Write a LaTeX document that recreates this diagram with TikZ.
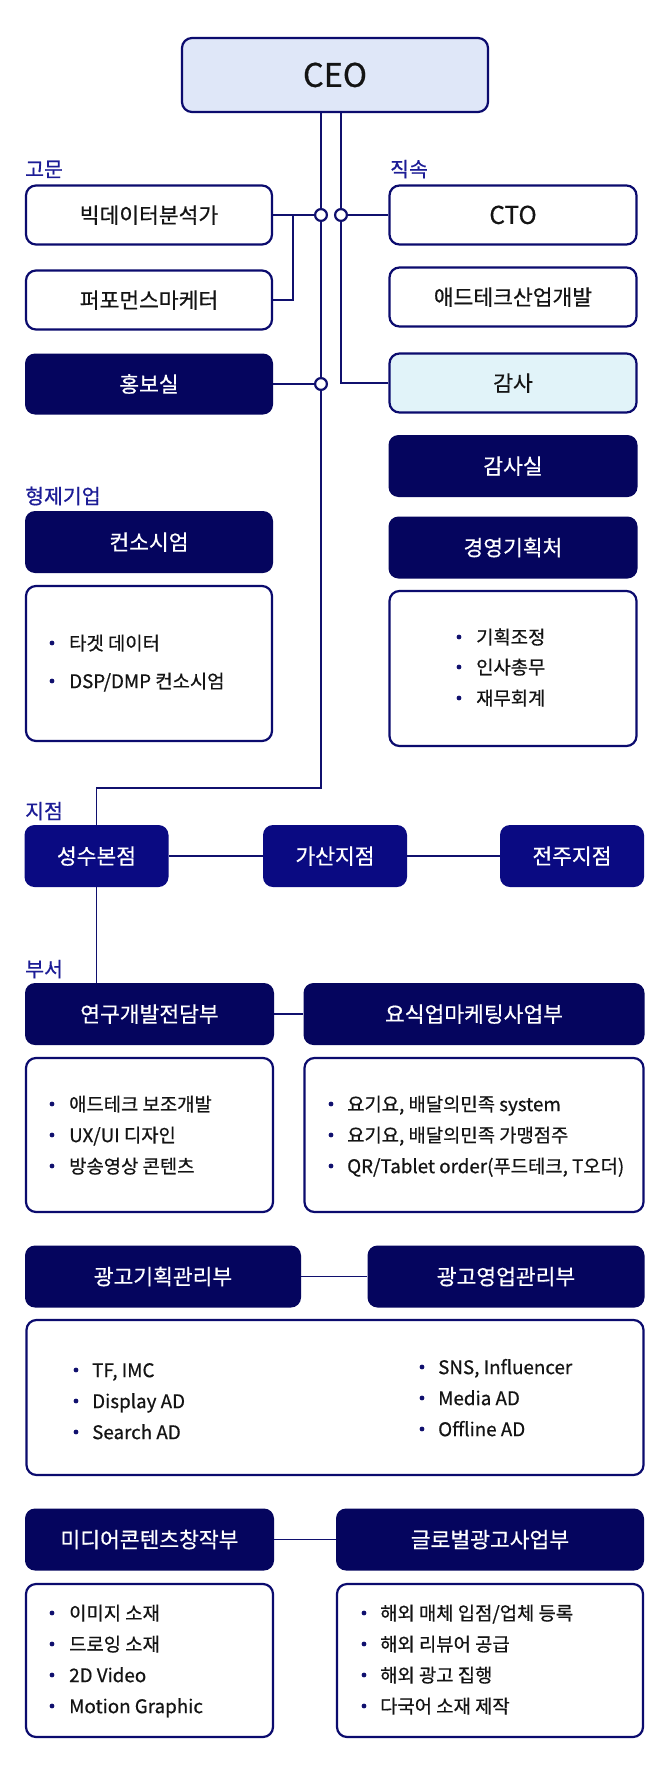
\documentclass[tikz,border=0pt]{standalone}
\usepackage{fontspec}
\setmainfont{Noto Sans CJK KR}[FakeBold=0.6]
\definecolor{ln}{HTML}{10106E}
\definecolor{bd}{HTML}{0B0B6E}
\definecolor{dk}{HTML}{05055E}
\definecolor{br}{HTML}{0A0A82}
\definecolor{ceof}{HTML}{DFE7F8}
\definecolor{gamf}{HTML}{E1F3F9}
\definecolor{lblc}{HTML}{1C1C96}
\definecolor{txt}{HTML}{141414}
\tikzset{
  basebox/.style={rounded corners=10pt, inner sep=0pt, minimum height=59pt,
    font=\fontsize{21.5}{26}\selectfont, text height=18pt, text depth=1.7pt},
  wbox/.style={basebox, draw=bd, line width=2.2pt, fill=white, text=txt},
  dbox/.style={basebox, fill=dk, text=white},
  bbox/.style={basebox, fill=br, text=white},
  listbox/.style={draw=bd, line width=2.2pt, rounded corners=10pt, fill=white, inner sep=0pt},
  grplbl/.style={anchor=west, inner sep=0pt, text=lblc, font=\fontsize{20.5}{24}\selectfont, text height=17.2pt, text depth=1.6pt},
  itm/.style={anchor=west, inner sep=0pt, text=txt, font=\fontsize{18.8}{22}\selectfont, text height=15.8pt, text depth=1.5pt},
  conn/.style={draw=ln, line width=1.8pt},
  joint/.style={circle, draw=ln, line width=2.2pt, fill=white, inner sep=0pt, minimum size=11.8pt},
  bul/.style={fill=ln},
}
\newcommand{\bitem}[4]{% name, bullet x, text x, y, text
  \fill[bul] (#2,#4) circle (2.4pt);
  \node[itm] (#1) at (#3,#4)}
\begin{document}
\begin{tikzpicture}[x=1pt,y=-1pt]
\useasboundingbox (0,0) rectangle (669,1779);
\fill[white] (0,0) rectangle (669,1779);

% ---------- top nodes
\node[wbox, fill=ceof, minimum width=306pt, minimum height=74pt, font=\fontsize{32.5}{38}\selectfont, text height=26.3pt, text depth=2.6pt] (ceo) at (335,75) {CEO};

\node[grplbl] (lgomun) at (25,169) {고문};
\node[grplbl] (ljiksok) at (390,169) {직속};

\node[wbox, minimum width=246pt] (bigdata) at (149,215) {빅데이터분석가};
\node[wbox, minimum width=246pt] (perf) at (149,300) {퍼포먼스마케터};
\node[dbox, minimum width=248pt, minimum height=61pt] (pr) at (149,384) {홍보실};

\node[wbox, minimum width=247pt, font=\fontsize{24.5}{28}\selectfont, text height=19.8pt, text depth=2pt] (cto) at (513,215) {CTO};
\node[wbox, minimum width=247pt] (adtech) at (513,297) {애드테크산업개발};
\node[wbox, fill=gamf, minimum width=247pt] (gamsa) at (513,383) {감사};
\node[dbox, minimum width=249pt, minimum height=62pt] (gamsasil) at (513,466) {감사실};

\node[grplbl] (lbro) at (25,496) {형제기업};
\node[dbox, minimum width=248pt, minimum height=62pt] (cons) at (149,542) {컨소시엄};
\node[listbox, minimum width=246pt, minimum height=155pt] (conslist) at (149,663.5) {};
\bitem{c1}{52}{69}{643}{타겟 데이터};
\bitem{c2}{52}{69}{681}{DSP/DMP 컨소시엄};

\node[dbox, minimum width=249pt, minimum height=62pt] (mgmt) at (513,547.5) {경영기획처};
\node[listbox, minimum width=247pt, minimum height=155pt] (mgmtlist) at (513,668.5) {};
\bitem{m1}{459}{476}{637}{기획조정};
\bitem{m2}{459}{476}{667}{인사총무};
\bitem{m3}{459}{476}{698}{재무회계};

% ---------- branches
\node[grplbl] (lbranch) at (25,811) {지점};
\node[bbox, minimum width=144pt, minimum height=62pt] (sungsu) at (96.5,856) {성수본점};
\node[bbox, minimum width=144pt, minimum height=62pt] (gasan) at (335,856) {가산지점};
\node[bbox, minimum width=144pt, minimum height=62pt] (jeonju) at (572,856) {전주지점};

% ---------- departments
\node[grplbl] (ldept) at (25,969) {부서};
\node[dbox, minimum width=249pt, minimum height=62pt] (rnd) at (149.5,1014) {연구개발전담부};
\node[dbox, minimum width=341pt, minimum height=62pt] (food) at (474,1014) {요식업마케팅사업부};
\node[listbox, minimum width=247pt, minimum height=154pt] (rndlist) at (149.5,1135) {};
\node[listbox, minimum width=339pt, minimum height=154pt] (foodlist) at (474,1135) {};
\bitem{r1}{52}{69}{1104}{애드테크 보조개발};
\bitem{r2}{52}{69}{1135}{UX/UI 디자인};
\bitem{r3}{52}{69}{1166}{방송영상 콘텐츠};
\bitem{f1}{331}{347}{1104}{요기요, 배달의민족 system};
\bitem{f2}{331}{347}{1135}{요기요, 배달의민족 가맹점주};
\bitem{f3}{331}{347}{1166}{QR/Tablet order(푸드테크, T오더)};

\node[dbox, minimum width=276pt, minimum height=62pt] (adplan) at (163,1276.5) {광고기획관리부};
\node[dbox, minimum width=277pt, minimum height=62pt] (adsales) at (506,1276.5) {광고영업관리부};
\node[listbox, minimum width=617pt, minimum height=155pt] (adlist) at (335,1397.5) {};
\bitem{a1}{76}{92}{1370}{TF, IMC};
\bitem{a2}{76}{92}{1401}{Display AD};
\bitem{a3}{76}{92}{1432}{Search AD};
\bitem{a4}{422}{438}{1367}{SNS, Influencer};
\bitem{a5}{422}{438}{1398}{Media AD};
\bitem{a6}{422}{438}{1429}{Offline AD};

\node[dbox, minimum width=249pt, minimum height=62pt] (media) at (149.5,1539.5) {미디어콘텐츠창작부};
\node[dbox, minimum width=308pt, minimum height=62pt] (global) at (490,1539.5) {글로벌광고사업부};
\node[listbox, minimum width=247pt, minimum height=153pt] (medialist) at (149.5,1660.5) {};
\node[listbox, minimum width=306pt, minimum height=153pt] (globallist) at (490,1660.5) {};
\bitem{d1}{52}{69}{1613}{이미지 소재};
\bitem{d2}{52}{69}{1644}{드로잉 소재};
\bitem{d3}{52}{69}{1675}{2D Video};
\bitem{d4}{52}{69}{1706}{Motion Graphic};
\bitem{g1}{364}{380}{1613}{해외 매체 입점/업체 등록};
\bitem{g2}{364}{380}{1644}{해외 리뷰어 공급};
\bitem{g3}{364}{380}{1675}{해외 광고 집행};
\bitem{g4}{364}{380}{1706}{다국어 소재 제작};

% ---------- connectors
\coordinate (j1) at (321,215);
\coordinate (j2) at (341,215);
\coordinate (j3) at (321,384);
\coordinate (turn) at (321,788);
\coordinate (fork) at (293,215);

\draw[conn] (ceo.south -| j1) -- (j1) -- (j3) -- (turn) -| (sungsu.north);
\draw[conn] (ceo.south -| j2) -- (j2) -- (gamsa.west -| j2) -- (gamsa.west);
\draw[conn] (bigdata.east) -- (j1);
\draw[conn] (fork) |- (perf.east);
\draw[conn] (j2) -- (cto.west);
\draw[conn] (pr.east) -- (j3);
\draw[conn] (sungsu.east) -- (gasan.west);
\draw[conn] (gasan.east) -- (jeonju.west);
\draw[conn] (sungsu.south) -- (sungsu.south |- rnd.north);
\draw[conn] (rnd.east) -- (food.west);
\draw[conn] (adplan.east) -- (adsales.west);
\draw[conn] (media.east) -- (global.west);

\node[joint] (jj1) at (j1) {};
\node[joint] (jj2) at (j2) {};
\node[joint] (jj3) at (j3) {};
\end{tikzpicture}
\end{document}
